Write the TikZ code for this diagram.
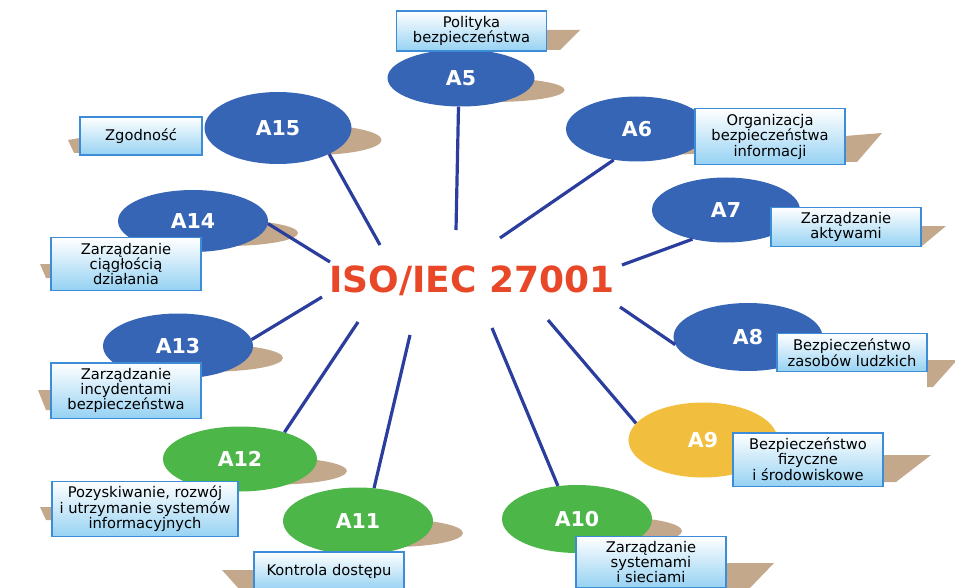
\documentclass[tikz,border=0pt]{standalone}
\usepackage{fontspec}
\setmainfont{DejaVu Sans}
\usepackage{tikz}
\usetikzlibrary{shapes.geometric}
\usetikzlibrary{calc}

\definecolor{ellblue}{RGB}{55,101,181}
\definecolor{ellgreen}{RGB}{77,182,72}
\definecolor{ellgold}{RGB}{242,190,62}
\definecolor{shadowtan}{RGB}{196,168,140}
\definecolor{spokeblue}{RGB}{43,62,158}
\definecolor{boxline}{RGB}{60,140,215}
\definecolor{boxfill}{RGB}{150,210,243}
\definecolor{isored}{RGB}{232,72,40}

\begin{document}
\begin{tikzpicture}[x=1pt,y=-1pt]
\tikzstyle{every node}=[font=\fontsize{14.7}{13.5}\selectfont]
\tikzstyle{area}=[ellipse,inner sep=0pt,text=white,font=\fontsize{20.5}{20}\selectfont\bfseries]
\tikzstyle{topic}=[draw=boxline,line width=1.1pt,top color=white,bottom color=boxfill,
  minimum width=150pt,minimum height=38pt,inner xsep=4pt,inner ysep=5pt,align=center]
\tikzstyle{spoke}=[draw=spokeblue,line width=3.2pt]
\tikzstyle{tanshadow}=[fill=shadowtan]

\useasboundingbox (0,0) rectangle (955,588);
\clip (0,0) rectangle (955,588);

% number/x/y/width/height/colour
\def\areas{5/461/78/147/57/ellblue, 6/637/129/142/65/ellblue, 7/726/210/148/65/ellblue,
  8/748/337/149/68/ellblue, 9/703/440/149/75/ellgold, 10/577/519/150/68/ellgreen,
  11/358/521/150/67/ellgreen, 12/240/459/154/65/ellgreen, 13/178/346/150/65/ellblue,
  14/193/221/150/62/ellblue, 15/278/128/147/72/ellblue}

%=== Ombres
\foreach \n/\x/\y/\w/\h/\c in \areas
  \fill[tanshadow] (\x+33,\y+12) ellipse [x radius=0.48*\w, y radius=0.21*\h];
% right hand boxes
\fill[tanshadow] (546,30) -- (580,30) -- (560,50) -- (546,50) -- cycle;
\fill[tanshadow] (845,136) -- (882,133) -- (857,162) -- (845,162) -- cycle;
\fill[tanshadow] (920,226) -- (946,226) -- (922,246) -- (920,246) -- cycle;
\fill[tanshadow] (927,360) -- (957,360) -- (933,387) -- (927,387) -- cycle;
\fill[tanshadow] (883,455) -- (931,455) -- (896,482) -- (883,482) -- cycle;
\fill[tanshadow] (727,563) -- (774,563) -- (748,590) -- (727,590) -- cycle;
% left hand boxes
\fill[tanshadow] (253,570) -- (222,570) -- (240,590) -- (253,590) -- cycle;
\fill[tanshadow] (52,507) -- (40,507) -- (46,520) -- (52,520) -- cycle;
\fill[tanshadow] (52,390) -- (38,390) -- (46,410) -- (52,410) -- cycle;
\fill[tanshadow] (52,264) -- (40,264) -- (46,278) -- (52,278) -- cycle;
\fill[tanshadow] (80,138) -- (68,140) -- (74,153) -- (80,153) -- cycle;

%=== Ellipses A5 ... A15
\foreach \n/\x/\y/\w/\h/\c in \areas
  \node[area,fill=\c,minimum width=\w pt,minimum height=\h pt] (a\n) at (\x,\y) {A\n};

%=== Rayons
\foreach \n/\x/\y/\ang in {5/456/230/265, 6/500/238/233, 7/622/265/221, 8/620/307/186,
  9/548/320/166, 10/492/328/120, 11/410/335/64, 12/358/322/31, 13/322/297/5,
  14/330/262/358, 15/380/245/333}
  \draw[spoke] (\x,\y) coordinate (s\n) -- (a\n.\ang);

%=== Domaines
\node[topic] (b5) at (471.5,31) {Polityka\\bezpieczeństwa};
\node[topic] (b6) at (770,136.5) {Organizacja\\bezpieczeństwa\\informacji};
\node[topic] (b7) at (846,227) {Zarządzanie\\aktywami};
\node[topic] (b8) at (852,352.5) {Bezpieczeństwo\\zasobów ludzkich};
\node[topic] (b9) at (808,459.5) {Bezpieczeństwo\\fizyczne\\i środowiskowe};
\node[topic] (b10) at (651,562) {Zarządzanie\\systemami\\i sieciami};
\node[topic] (b11) at (329,571) {Kontrola dostępu};
\node[topic,minimum width=186pt] (b12) at (145,509) {Pozyskiwanie, rozwój\\i utrzymanie systemów\\informacyjnych};
\node[topic] (b13) at (126,390.5) {Zarządzanie\\incydentami\\bezpieczeństwa};
\node[topic] (b14) at (126,264) {Zarządzanie\\ciągłością\\działania};
\node[topic,minimum width=122pt] (b15) at (141,136) {Zgodność};

% Titre
\node[text=isored,font=\fontsize{36}{36}\selectfont\bfseries] (iso) at (472,281) {ISO/IEC 27001};
\end{tikzpicture}
\end{document}
